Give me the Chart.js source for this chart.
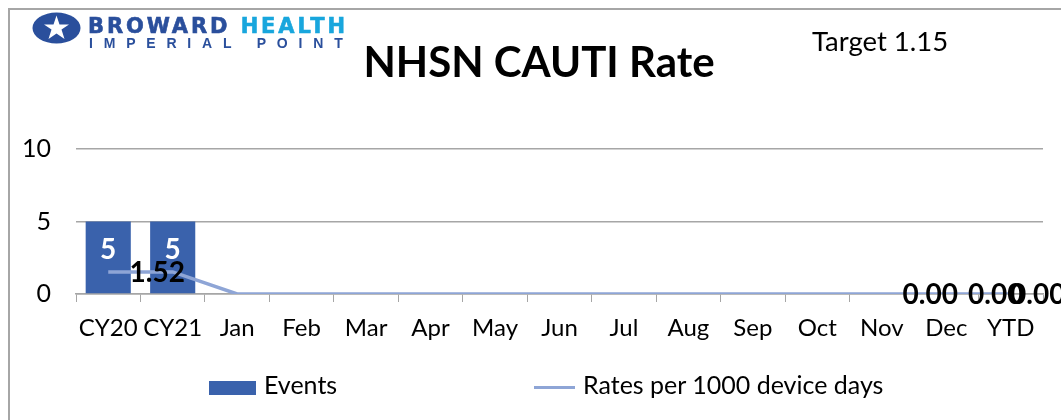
<!DOCTYPE html>
<html>
<head>
<meta charset="utf-8">
<script src="https://cdn.jsdelivr.net/npm/chart.js@4"></script>
<style>
  body { margin: 0; background: #fff; font-family: Lato, "Noto Sans", sans-serif; }
  #wrap { position: relative; width: 1061px; height: 420px; overflow: hidden; }
  #frame { position: absolute; left: 8px; top: 8px; width: 1100px; height: 440px; border-left: 2px solid #a6a6a6; border-top: 2px solid #a6a6a6; }
  canvas { position: absolute; left: 0; top: 0; }
  #logo { position: absolute; left: 32px; top: 12px; }
  #brand1 { position: absolute; left: 88px; top: 15.5px; font: 900 21px/21px "DejaVu Sans", Arial, sans-serif; color: #2a4f9c; letter-spacing: 2.9px; white-space: nowrap; -webkit-text-stroke: 0.6px currentColor; }
  #brand1 span { color: #18a6dd; }
  #brand2 { position: absolute; left: 89px; top: 35.5px; font: 700 14px/14px "Liberation Sans", Arial, sans-serif; color: #2a4f9c; letter-spacing: 10.8px; white-space: nowrap; }
  #title { position: absolute; left: 0; width: 1078px; top: 36px; text-align: center; font-weight: 700; font-size: 42px; color: #000; }
  #target { position: absolute; left: 812px; top: 24px; font-size: 27.5px; color: #000; }
  .leg { position: absolute; top: 369px; font-size: 25px; color: #000; white-space: nowrap; }
  .box { display: inline-block; width: 47px; height: 14px; background: #3a62ac; vertical-align: middle; margin-right: 8px; }
  .ln { display: inline-block; width: 41px; height: 3px; background: #8ea5d6; vertical-align: middle; margin-right: 8px; }
</style>
</head>
<body>
<div id="wrap">
  <canvas id="chart" width="1061" height="420"></canvas>
  <div id="frame"></div>
  <svg id="logo" width="49" height="32" viewBox="0 0 49 32">
    <ellipse cx="24.5" cy="16" rx="24" ry="15.5" fill="#2a4f9c"/>
    <polygon fill="#fff" points="24.5,3.5 27.5,12.5 37,12.5 29.5,17.5 32.5,27 24.5,21.5 16.5,27 19.5,17.5 12,12.5 21.5,12.5"/>
  </svg>
  <div id="brand1">BROWARD <span>HEALTH</span></div>
  <div id="brand2">IMPERIAL POINT</div>
  <div id="title">NHSN CAUTI Rate</div>
  <div id="target">Target 1.15</div>
  <div class="leg" style="left:209px"><span class="box"></span>Events</div>
  <div class="leg" style="left:534px"><span class="ln"></span>Rates per 1000 device days</div>
</div>
<script>
const categories = ["CY20", "CY21", "Jan", "Feb", "Mar", "Apr", "May", "Jun", "Jul", "Aug", "Sep", "Oct", "Nov", "Dec", "YTD"];
const events = [5, 5, null, null, null, null, null, null, null, null, null, null, null, null, null];
const rates = [1.52, 1.52, 0, 0, 0, 0, 0, 0, 0, 0, 0, 0, 0, 0, 0];
const yTicks = [0, 5, 10];
// rate labels that show in the picture: [index, x shift]
const rateLabels = [[0, 49], [13, -16], [14, -15], [14, 27]];

const labelPlugin = {
  id: "labels",
  afterDatasetsDraw(chart) {
    const ctx = chart.ctx;
    const bars = chart.getDatasetMeta(0).data;
    const pts = chart.getDatasetMeta(1).data;
    ctx.save();
    ctx.textAlign = "center";
    ctx.textBaseline = "middle";
    ctx.font = "bold 28px Lato, 'Noto Sans', sans-serif";
    ctx.fillStyle = "#fff";
    events.forEach((v, i) => {
      if (v == null) return;
      ctx.fillText(String(v), bars[i].x, bars[i].y + 28);
    });
    ctx.fillStyle = "#000";
    rateLabels.forEach(([i, dx]) => {
      ctx.fillText(rates[i].toFixed(2), pts[i].x + dx, pts[i].y + 1);
    });
    ctx.restore();
  }
};

new Chart(document.getElementById("chart"), {
  data: {
    labels: categories,
    datasets: [
      {
        type: "bar",
        label: "Events",
        data: events,
        backgroundColor: "#3a62ac",
        barPercentage: 0.7,
        categoryPercentage: 1,
        order: 2
      },
      {
        type: "line",
        label: "Rates per 1000 device days",
        data: rates,
        borderColor: "#8ea5d6",
        borderWidth: 3.5,
        pointRadius: 0,
        tension: 0,
        order: 1
      }
    ]
  },
  options: {
    responsive: false,
    animation: false,
    layout: { padding: { left: 16, right: 18, top: 149, bottom: 66 } },
    plugins: { legend: { display: false }, tooltip: { enabled: false } },
    scales: {
      x: {
        grid: { display: true, drawOnChartArea: false, offset: true, color: "#a6a6a6", tickLength: 8 },
        border: { color: "#a6a6a6", width: 1.5 },
        ticks: { color: "#000", font: { size: 24, family: "Lato, 'Noto Sans', sans-serif" }, padding: 12, maxRotation: 0, minRotation: 0, autoSkip: false },
        afterFit(scale) { scale.height = 60; }
      },
      y: {
        min: 0,
        max: 10,
        afterBuildTicks(scale) { scale.ticks = yTicks.map(v => ({ value: v })); },
        grid: { color: "#a6a6a6", lineWidth: 1.5, drawTicks: false },
        border: { display: false },
        ticks: { color: "#000", font: { size: 25, family: "Lato, 'Noto Sans', sans-serif" }, padding: 25 },
        afterFit(scale) { scale.width = 60; }
      }
    }
  },
  plugins: [labelPlugin]
});
</script>
</body>
</html>
